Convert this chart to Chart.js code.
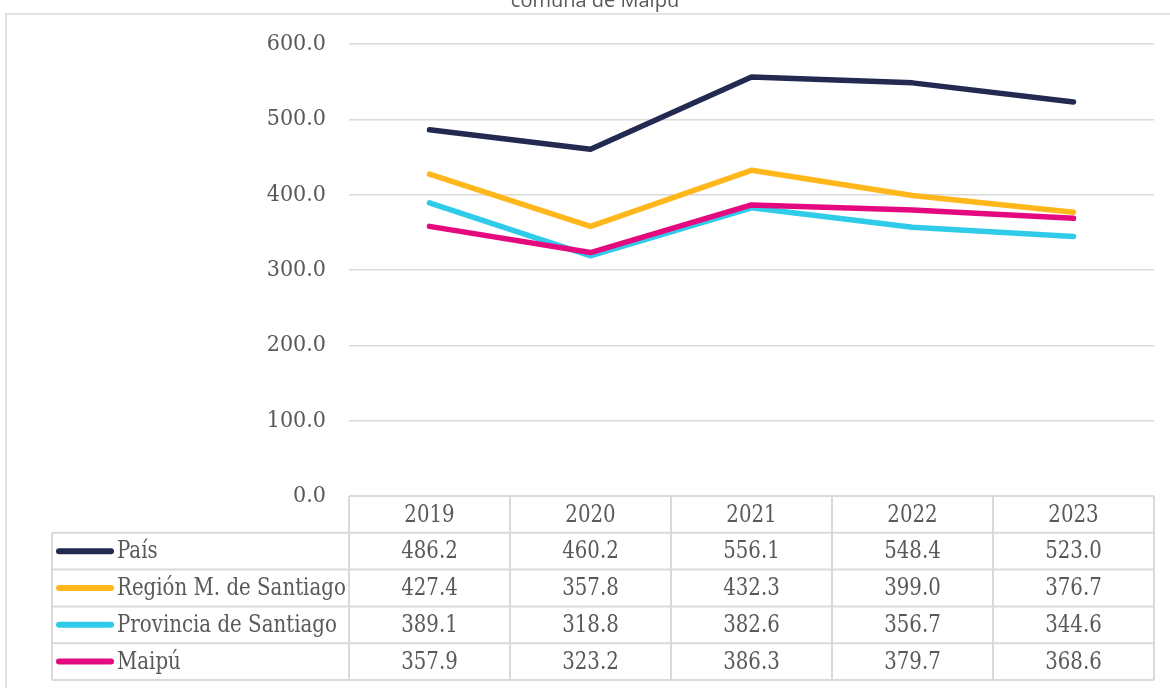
<!DOCTYPE html>
<html>
<head>
<meta charset="utf-8">
<script src="https://cdn.jsdelivr.net/npm/chart.js@4/dist/chart.umd.min.js"></script>
<style>
  html, body { margin: 0; padding: 0; background: #fff; }
  canvas { display: block; }
</style>
</head>
<body>
<canvas id="chart" width="1170" height="688"></canvas>
<script>
// data
const years = ['2019', '2020', '2021', '2022', '2023'];
const seriesNames = ['País', 'Región M. de Santiago', 'Provincia de Santiago', 'Maipú'];
const pais = [486.2, 460.2, 556.1, 548.4, 523.0];
const region = [427.4, 357.8, 432.3, 399.0, 376.7];
const provincia = [389.1, 318.8, 382.6, 356.7, 344.6];
const maipu = [357.9, 323.2, 386.3, 379.7, 368.6];
const yTicks = [0, 100, 200, 300, 400, 500, 600];
const titleText = 'comuna de Maipú';

const seriesValues = [pais, region, provincia, maipu];
const colors = ['#232a52', '#ffb71b', '#31cbea', '#e5097f'];
const serif = '"DejaVu Serif Condensed", "DejaVu Serif", serif';
const textColor = '#595959';
const lineGray = '#d9d9d9';

// text in the table is a bit taller than the font, stretch it slightly
function cellText(ctx, txt, x, y) {
  ctx.save();
  ctx.translate(x, y);
  ctx.scale(1, 1.08);
  ctx.fillText(txt, 0, 0);
  ctx.restore();
}

// frame, cut-off title and the data table under the plot
const tablePlugin = {
  id: 'dataTable',
  beforeDraw(chart) {
    const ctx = chart.ctx;
    ctx.save();
    ctx.fillStyle = '#fff';
    ctx.fillRect(0, 0, chart.width, chart.height);
    ctx.strokeStyle = lineGray;
    ctx.lineWidth = 1.5;
    ctx.beginPath();
    ctx.moveTo(6, chart.height);
    ctx.lineTo(6, 14);
    ctx.lineTo(chart.width, 14);
    ctx.stroke();
    ctx.fillStyle = textColor;
    ctx.font = '20px "Open Sans"';
    ctx.textAlign = 'center';
    ctx.textBaseline = 'alphabetic';
    ctx.fillText(titleText, 595, 7);
    ctx.restore();
  },
  afterDraw(chart) {
    const ctx = chart.ctx;
    const area = chart.chartArea;
    const xs = chart.scales.x;
    const top = area.bottom;
    const rowH = 36.8;
    const nRows = seriesNames.length + 1;
    const bottom = top + rowH * nRows;
    const tableLeft = 52;
    const colW = (area.right - area.left) / years.length;

    ctx.save();
    ctx.strokeStyle = lineGray;
    ctx.lineWidth = 2;
    ctx.beginPath();
    ctx.moveTo(area.left, top);
    ctx.lineTo(area.right, top);
    for (let i = 1; i <= nRows; i++) {
      ctx.moveTo(tableLeft, top + i * rowH);
      ctx.lineTo(area.right, top + i * rowH);
    }
    ctx.moveTo(tableLeft, top + rowH);
    ctx.lineTo(tableLeft, bottom);
    for (let k = 0; k <= years.length; k++) {
      ctx.moveTo(area.left + k * colW, top);
      ctx.lineTo(area.left + k * colW, bottom);
    }
    ctx.stroke();

    ctx.font = '22px ' + serif;
    ctx.fillStyle = textColor;
    ctx.textBaseline = 'middle';
    ctx.textAlign = 'center';
    years.forEach((y, i) => {
      cellText(ctx, y, xs.getPixelForValue(i), top + rowH / 2 + 1);
    });

    seriesNames.forEach((name, r) => {
      const cy = top + rowH * (r + 1) + rowH / 2;
      ctx.strokeStyle = colors[r];
      ctx.lineWidth = 6;
      ctx.lineCap = 'round';
      ctx.beginPath();
      ctx.moveTo(59, cy);
      ctx.lineTo(111, cy);
      ctx.stroke();

      ctx.fillStyle = textColor;
      ctx.textAlign = 'left';
      cellText(ctx, name, 117, cy + 1);
      ctx.textAlign = 'center';
      seriesValues[r].forEach((v, i) => {
        cellText(ctx, v.toFixed(1), xs.getPixelForValue(i), cy + 1);
      });
    });
    ctx.restore();
  }
};

new Chart(document.getElementById('chart'), {
  type: 'line',
  data: {
    labels: years,
    datasets: seriesNames.map((name, i) => ({
      label: name,
      data: seriesValues[i],
      borderColor: colors[i],
      backgroundColor: colors[i],
      borderWidth: 5.5,
      pointRadius: 0,
      tension: 0,
      borderCapStyle: 'round',
      borderJoinStyle: 'round',
      order: seriesNames.length - i
    }))
  },
  options: {
    responsive: false,
    animation: false,
    devicePixelRatio: 1,
    layout: { padding: { top: 44, bottom: 192, left: 0, right: 16 } },
    plugins: {
      legend: { display: false },
      tooltip: { enabled: false },
      title: { display: false }
    },
    scales: {
      x: {
        type: 'category',
        display: false,
        offset: true
      },
      y: {
        min: 0,
        max: 600,
        afterFit(scale) { scale.width = 349; },
        afterBuildTicks(scale) { scale.ticks = yTicks.map(v => ({ value: v })); },
        border: { display: false },
        grid: { color: lineGray, lineWidth: 1.5, drawTicks: false },
        ticks: {
          padding: 23,
          color: textColor,
          font: { family: serif, size: 23 },
          callback: v => Number(v).toFixed(1)
        }
      }
    }
  },
  plugins: [tablePlugin]
});
</script>
</body>
</html>
